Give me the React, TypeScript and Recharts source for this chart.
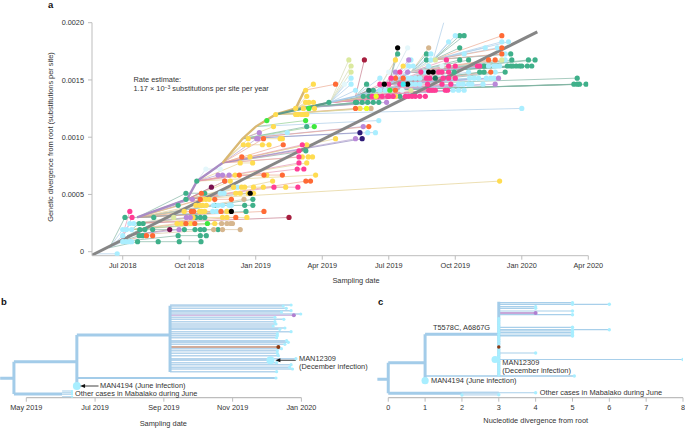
import React from "react";
import { ComposedChart, Line, Scatter, XAxis, YAxis, ReferenceLine } from "recharts";

const FONT = '"Liberation Sans", Arial, sans-serif';
const TEXT = "#333";
const AXIS = "#bdbdbd";

// panel a: x is months after Jul 2018, rows are substitutions from root
const A_TICKS = [0, 3, 6, 9, 12, 15, 18, 21];
const A_LABELS = ["Jul 2018", "Oct 2018", "Jan 2019", "Apr 2019", "Jul 2019", "Oct 2019", "Jan 2020", "Apr 2020"];
const A_Y_TICKS = [0, 0.0005, 0.001, 0.0015, 0.002];
const SITE_STEP = 1 / 18900;
const ROW_SHIFT = 0.65;
const REGRESSION_X = [-1.39, 18.7];
const REGRESSION_Y = [-0.00003, 0.00192];

// [row, month] nodes of the backbone of the tree
const BACKBONE = [
  [-1, -1.39], [0, -0.6], [1, -0.1], [2, 0.2], [3, 0.4], [4, 0.5], [5, 0.65],
  [8, 2.9], [11, 3.35], [14, 4.5], [18, 5.4], [20, 6], [22, 6.9], [23, 7.8], [26, 8.2],
  [24, 9.35], [25, 10.5], [26, 11.5], [27, 12], [29, 13], [31, 14],
];
const THICK_PURPLE = [[5, 0.65], [8, 2.9], [11, 3.35], [14, 4.5]];
const THICK_TAN = [[14, 4.5], [18, 5.4], [20, 6], [22, 6.9], [23, 7.8], [26, 8.2]];
const THICK_GREEN = [[22, 6.9], [24, 9.35]];
const THICK_BLUE = [[24, 9.35], [25, 10.5], [26, 11.5], [27, 12], [29, 13]];

const GREEN_TIPS = [
  [1, [0.67, 1.6, 2.55, 3.53]], [2, [0.74, 0.9, 2.5, 3.5, 3.77]], [3, [0.77, 1, 1.35, 2.78, 3.26, 3.5, 3.68, 4.3]],
  [4, [0.74, 0.92]], [5, [0.1, 1.4, 3.3, 3.5, 3.7]], [6, [5.56]], [7, [2.5, 4.15, 5.5, 5.87]], [8, [2.85, 5.87]],
  [9, [2.85, 3.7]], [11, [3.34]], [16, [8.26]], [20, [8.3]], [24, [9.3, 10.5, 10.55, 10.8, 11.05, 11.3, 11.55]],
  [25, [10.85, 11.1, 12.5]], [26, [11.3]], [27, [11, 20.35, 20.5, 20.6, 20.9]], [28, [20.5]],
  [29, [14.95, 16.1, 16.3, 17.25]], [30, [16.3, 17.35, 17.5, 17.6, 17.75, 17.9, 18, 18.25, 18.45]],
  [31, [13.7, 15.2, 15.6, 17.55, 18.3, 18.6]], [32, [12.4, 13.7, 17.5]], [33, [15.2]], [35, [15.2, 15.4]],
];
const CYAN_TIPS = [
  [-1, [-0.25]], [1, [0, 0.14, 0.3, 0.4]], [2, [0]], [3, [0, 0.17, 0.4]], [4, [0.32, 0.5]], [6, [4.06, 4.24, 4.7]],
  [7, [4.1, 4.3, 4.5, 4.8, 4.9]], [9, [4.4, 4.57]], [10, [5.17]], [19, [7.42, 11.05, 11.4]], [21, [11.55]], [23, [18]],
  [26, [10.5, 11.6, 11.85, 14.9, 15.15, 15.4]], [27, [10.3, 13, 13.2, 13.4, 15.15, 15.35, 15.6, 15.75, 16.25]],
  [28, [10.3, 11.6, 12.85, 13, 13.2, 13.4, 15.65, 15.85, 16.05, 16.4, 16.6, 16.75]], [29, [13.6, 15.6, 16.8]],
  [30, [12.9, 13.1, 13.8, 16.5, 16.75, 16.85, 17]], [31, [13, 13.9, 17.25]], [32, [13.9, 15.4, 17.25]],
  [33, [16.35, 16.9]], [34, [14.7, 17.1, 17.4]], [35, [15]], [40, [14.7]],
];
const YELLOW_TIPS = [
  [4, [2.45, 2.65, 3.07, 4.15]], [5, [3.17, 4.5, 4.7, 5.6]], [6, [2.77, 3.47, 3.55, 3.7, 4.7]], [7, [3.3, 3.47, 3.6, 3.77]],
  [8, [3.6, 3.75, 3.9]], [9, [5.1, 5.3, 5.66, 5.9]], [10, [5, 5.36, 5.5, 5.9, 6.34, 7.35]], [11, [4.85, 6.76, 17]],
  [12, [5.07, 6.5, 8.7]], [14, [5.3, 5.86, 8.3]], [15, [5.74, 8.1, 8.37, 8.56]], [17, [5.44, 5.66, 6.3, 6.6, 8.3]],
  [18, [5.66, 7.1, 7.2, 9.6]], [20, [6.8]], [22, [6.9, 7.8, 7.9, 8.07, 8.2, 8.3]], [23, [7.8, 8.15, 8.65, 10.7]],
  [24, [8.25, 8.4, 8.6]], [25, [8.3, 12.3]], [26, [8.25]], [27, [8.6]], [30, [12.65]], [31, [12.3]],
];
const TAN_TIPS = [[3, [4.1, 4.5, 5.3]], [4, [4.46, 4.7, 4.87, 4.95]], [8, [5.47]], [23, [11.2]], [33, [13.8]]];
const PURPLE_TIPS = [
  [3, [2.54]], [5, [2.87, 3.05]], [8, [3.14]], [11, [4.6]], [12, [4.3, 4.5, 4.8]], [18, [6.04, 6.1, 10.5]], [19, [6.16]],
  [20, [10.85]], [24, [11.9]], [27, [16.8]], [28, [16.95]], [29, [12.3, 12.85]], [31, [12.9]],
];
const ORANGE_TIPS = [
  [2, [1.07, 1.35]], [4, [2.85, 3.25]], [5, [5.1]], [6, [3.1, 3.2, 4.43, 6.37]], [8, [3.5, 4.15, 4.9]], [9, [3.55]],
  [11, [4.6, 8.26, 8.47]], [12, [5.26, 6.37, 7.2]], [15, [5.37]], [17, [7.24]], [18, [6.35]], [20, [11.1]], [23, [10.5]],
  [26, [12.3]], [27, [9.6]], [28, [12.3, 12.65]], [29, [16.6]], [31, [16.5, 16.8]], [32, [17.1]], [33, [17.1]], [35, [17.1]],
];
const PINK_TIPS = [
  [5, [0.42]], [6, [0.32]], [10, [6.82, 7.9]], [13, [7.87, 8.17]], [14, [7.95]], [15, [7.95]], [16, [7.95]], [17, [8.1]],
  [25, [11.25, 11.5, 11.7, 11.95, 12, 12.2, 12.75, 12.9, 13.05, 13.2, 13.4, 13.65]],
  [26, [13.8, 13.9, 14, 14.1, 14.55, 14.65]], [27, [11.6, 12, 12.5, 13.75, 14.4, 14.8]],
  [28, [12.1, 13.7, 13.85, 14.45, 14.7, 15]], [29, [12.5, 13.45, 14.25, 14.4, 14.7]], [30, [14.7, 15, 16, 16.1]], [31, [14.6]],
];
const BLACK_TIPS = [[6, [4.9]], [9, [5.75]], [27, [11.8, 12.85]], [29, [13.8, 14]], [33, [12.4]]];
const MAROON_TIPS = [[3, [2.12]], [10, [4]]];
const DARK_RED_TIPS = [[5, [7.5]], [31, [10.9]]];
const NAVY_TIPS = [[18, [10.8]], [19, [10.7]]];
const LIME_TIPS = [[4, [3.82]], [20, [8.64]], [21, [6.5, 8.25]], [23, [8.4]], [26, [12.05]]];
const LIGHT_GREEN_TIPS = [[5, [2.3]], [26, [13]], [29, [10.3]], [30, [10.3]], [31, [10.2, 14.1, 17.1]]];
const PALE_TIPS = [[13, [3.75, 4.4]], [26, [12.6]], [27, [10]], [29, [12]], [30, [14.4]], [33, [12.85]]];
const CITRON_TIPS = [[23, [11]], [25, [11.43]]];
const AQUA_TIPS = [[27, [12.65]]];
const DEEP_GREEN_TIPS = [[26, [11.1]], [28, [14.1]]];

const A_SERIES = [
  { name: "green", color: "#3fb08a", stem: "#7fb3a2", tips: GREEN_TIPS },
  { name: "cyan", color: "#aaeeff", stem: "#a9cbe8", tips: CYAN_TIPS },
  { name: "yellow", color: "#ffdc50", stem: "#e3cf8e", tips: YELLOW_TIPS },
  { name: "tan", color: "#d6b68e", stem: "#d8c3a0", tips: TAN_TIPS },
  { name: "purple", color: "#b988d8", stem: "#b59fce", tips: PURPLE_TIPS },
  { name: "orange", color: "#ff6a35", stem: "#eba88e", tips: ORANGE_TIPS },
  { name: "pink", color: "#ff3d96", stem: "#e596b4", tips: PINK_TIPS },
  { name: "black", color: "#000000", stem: "#9a9a9a", tips: BLACK_TIPS },
  { name: "maroon", color: "#7a1150", stem: "#b0809c", tips: MAROON_TIPS },
  { name: "darkred", color: "#a61e3e", stem: "#c4788a", tips: DARK_RED_TIPS },
  { name: "navy", color: "#2d1b78", stem: "#8f86bd", tips: NAVY_TIPS },
  { name: "lime", color: "#3ee83e", stem: "#8fce8f", tips: LIME_TIPS },
  { name: "lightgreen", color: "#dbe99f", stem: "#d3d9b4", tips: LIGHT_GREEN_TIPS },
  { name: "pale", color: "#e4f7fb", stem: "#c9dfe8", tips: PALE_TIPS },
  { name: "citron", color: "#e8ff20", stem: "#d6dc90", tips: CITRON_TIPS },
  { name: "aqua", color: "#3ce6f0", stem: "#a9cbe8", tips: AQUA_TIPS },
  { name: "deepgreen", color: "#1f7a60", stem: "#7fb3a2", tips: DEEP_GREEN_TIPS },
];

const rowValue = (row: number) => (row + ROW_SHIFT) * SITE_STEP;

const backboneNode = (row: number, month: number) => {
  let best = BACKBONE[0];
  for (const node of BACKBONE) {
    if (node[0] <= row - 1 && node[1] < month - 0.3 && node[1] > best[1]) best = node;
  }
  return best;
};

const tipPoints = (tips: any[]) =>
  tips.flatMap(([row, months]) => months.map((m: number) => ({ x: m, y: rowValue(row) })));

// below row 24 a tip runs on from the tip before it in the same row, the first one leaves the backbone
const stemRows = (tips: any[]) =>
  tips.flatMap(([row, months]) =>
    months.flatMap((m: number, i: number) => {
      const from = row < 24 && i > 0 && m - months[i - 1] < 1.5 ? [row, months[i - 1]] : backboneNode(row, m);
      return [
        { x: from[1], y: rowValue(from[0]) },
        { x: m, y: rowValue(row) },
        { x: m, y: null },
      ];
    })
  );

const trunkRows = (nodes: number[][]) => nodes.map(([row, m]) => ({ x: m, y: rowValue(row) }));

// panels b and c: y is the position of the branch in the drawn tree
const B_TICKS = [0, 2, 4, 6, 8];
const B_LABELS = ["May 2019", "Jul 2019", "Sep 2019", "Nov 2019", "Jan 2020"];
const B_FAN_ROOT = 4.18;
const B_FAN_POS = [92.7, 91.7, 89.4, 87, 85.7, 83.7, 80.4, 78.4, 76, 73.7, 71.7, 69.7, 68.4, 66, 64, 62, 60, 57, 55.4, 53.4, 49, 47, 44.4, 42, 39, 37.4, 35, 33, 30.4, 28.7, 26];
const B_FAN_TIP = [7.7, 7.47, 7.56, 7.7, 7.42, 7.98, 7.23, 7.49, 7.23, 7.26, 7.18, 7.52, 7.37, 7.7, 7.3, 7.3, 7.28, 7.57, 7.62, 7.52, 7.42, 7.3, 7.3, 7.33, 7.84, 7.1, 7.28, 7.7, 7.66, 7.74, 7.28];
const B_PURPLE = [82.4, 7.78];
const B_BROWN = [50.7, 7.33];
const B_THICK = [
  [[-0.76, 19.4], [-0.36, 19.4]],
  [[-0.36, 36], [-0.36, 3.7]],
  [[-0.36, 36], [1.47, 36]],
  [[1.47, 62.7], [1.47, 11.7]],
  [[1.47, 62.7], [4.18, 62.7]],
  [[4.18, 92], [4.18, 25.7]],
  [[-0.36, 3.7], [1.04, 3.7]],
];
const B_MEDIUM = [[[1.47, 19.7], [7.26, 19.7]]];
const B_BOX_POS = [6.7, 5, 3.5, 1];
const B_BOX_X = [1.04, 1.33];
const B_ARROWS = [
  [[2.1, 11.7], [1.65, 11.7]],
  [[7.84, 37.4], [7.33, 37.4]],
];
const B_BIG = [[1.47, 11.7], [7.1, 37.4]];

const C_TICKS = [0, 1, 2, 3, 4, 5, 6, 7, 8];
const C_FAN_ROOT = 3;
const C_FAN_POS = [95, 93.4, 91, 89.4, 86.7, 83, 70.4, 68, 66.7, 65.2, 63.7, 62.2, 61.7, 44.7, 38.2];
const C_FAN_TIP = [5, 6, 4, 4, 5, 5, 5, 6, 5, 5, 5, 5, 5, 4, 8];
const C_FAN_DOTS = [[5, 93.4], [5, 68]];
const C_PURPLE = [84.7, 4];
const C_COLUMN = [79.2, 76.9, 74.6, 72.3, 70, 67.7, 65.4, 63.1, 60.8, 58.5, 56.2, 53.9, 48, 45.7, 43.4, 41.1, 38.8, 36.5, 34.2, 31.9, 29.6, 27.3, 25, 22.7];
const C_BROWN = [3, 50.7];
const C_THICK = [
  [[-0.3, 18.4], [0, 18.4]],
  [[0, 35], [0, 4.4]],
  [[0, 35], [1, 35]],
  [[1, 63.4], [1, 17]],
  [[1, 63.4], [3, 63.4]],
  [[3, 96], [3, 21.7]],
  [[0, 4.4], [2, 4.4]],
];
const C_MEDIUM = [[[1, 21.7], [5.05, 21.7]]];
const C_BOX_POS = [5.7, 4.7, 3.7, 2.7];
const C_BOX_X = [2, 3];
const C_OUTER = [[[2, 5], [4, 5]]];
const C_DOTS = [[5.05, 21.7], [4, 5], [2, 2.7], [3, 3]];
const C_BIG = [[2.9, 38.2], [1, 17]];

const pathRows = (paths: number[][][]) =>
  paths.flatMap((p) => [...p.map(([x, y]) => ({ x, y })), { x: p[p.length - 1][0], y: null }]);

const fanRows = (root: number, pos: number[], tip: number[]) =>
  pos.flatMap((y, i) => [{ x: root, y }, { x: tip[i], y }, { x: tip[i], y: null }]);

const boxRows = (pos: number[], xs: number[]) =>
  pos.flatMap((y) => [{ x: xs[0], y }, { x: xs[1], y }, { x: xs[1], y: null }]);

const dotRows = (pairs: number[][]) => pairs.map(([x, y]) => ({ x, y }));

const disc = (r: number, fill: string) => (p: any) => <circle cx={p.cx} cy={p.cy} r={r} fill={fill} />;
const arrowHead = (p: any) => (
  <polygon points={`${p.cx - 3},${p.cy} ${p.cx + 2},${p.cy - 2} ${p.cx + 2},${p.cy + 2}`} fill="#111" />
);

const tickStyle = { fontSize: 7.3, fill: TEXT, fontFamily: FONT };

const Note = ({ x, y, children, center, bold }: any) => (
  <div
    style={{
      position: "absolute",
      left: x,
      top: y,
      transform: center ? "translate(-50%,-50%)" : "translateY(-50%)",
      font: `${bold ? "bold 9.5px" : "7.4px"} ${FONT}`,
      color: bold ? "#111" : TEXT,
      whiteSpace: "nowrap",
      lineHeight: 1,
    }}
  >
    {children}
  </div>
);

const seriesLine = (key: string, rows: any[], color: string, width: number, opacity = 1) => (
  <Line
    key={key}
    data={rows}
    dataKey="y"
    stroke={color}
    strokeWidth={width}
    strokeOpacity={opacity}
    dot={false}
    activeDot={false}
    legendType="none"
    isAnimationActive={false}
  />
);

const seriesDots = (key: string, rows: any[], r: number, color: string) => (
  <Scatter key={key} data={rows} dataKey="y" shape={disc(r, color)} isAnimationActive={false} />
);

function PanelA() {
  return (
    <div style={{ position: "absolute", left: 0, top: 0 }}>
      <ComposedChart width={685} height={290} margin={{ top: 22.7, right: 96.7, bottom: 4.3, left: 0 }}>
        <XAxis
          dataKey="x"
          type="number"
          domain={[-1.386, 21]}
          ticks={A_TICKS}
          interval={0}
          tickFormatter={(_: any, i: number) => A_LABELS[i]}
          tick={tickStyle}
          tickSize={4}
          tickMargin={3}
          stroke={AXIS}
          height={30}
          allowDataOverflow
        />
        <YAxis
          type="number"
          domain={[-0.000035, 0.002]}
          ticks={A_Y_TICKS}
          interval={0}
          tickFormatter={(v: number) => (v === 0 ? "0" : v.toFixed(4))}
          tick={tickStyle}
          tickSize={4}
          tickMargin={4}
          stroke={AXIS}
          width={92}
          allowDataOverflow
        />
        {A_SERIES.map((s) => seriesLine(`stem-${s.name}`, stemRows(s.tips), s.stem, 0.8, 0.85))}
        {seriesLine("thick-blue", trunkRows(THICK_BLUE), "#a9cbe8", 1.6)}
        {seriesLine("thick-purple", trunkRows(THICK_PURPLE), "#a98cc4", 2.4)}
        {seriesLine("thick-tan", trunkRows(THICK_TAN), "#d9b873", 2.4)}
        {seriesLine("thick-green", trunkRows(THICK_GREEN), "#5f9a8a", 2.2)}
        {A_SERIES.map((s) => seriesDots(`tip-${s.name}`, tipPoints(s.tips), 2.6, s.color))}
        {seriesLine("regression", REGRESSION_X.map((x, i) => ({ x, y: REGRESSION_Y[i] })), "#868686", 3)}
      </ComposedChart>
    </div>
  );
}

function PanelB() {
  return (
    <div style={{ position: "absolute", left: 0, top: 290 }}>
      <ComposedChart width={345} height={138} margin={{ top: 0, right: 35, bottom: 0.3, left: 0 }}>
        <XAxis
          dataKey="x"
          type="number"
          domain={[-0.765, 8.25]}
          ticks={B_TICKS}
          interval={0}
          tickFormatter={(_: any, i: number) => B_LABELS[i]}
          tick={tickStyle}
          tickSize={4}
          tickMargin={3}
          stroke={AXIS}
          axisLine={false}
          height={30}
          allowDataOverflow
        />
        <YAxis type="number" domain={[0, 107.7]} hide width={0} />
        <ReferenceLine segment={[{ x: 0, y: 0 }, { x: 8, y: 0 }]} stroke={AXIS} strokeWidth={1.2} ifOverflow="visible" />
        {seriesLine("fan", fanRows(B_FAN_ROOT, B_FAN_POS, B_FAN_TIP), "#b5d4ec", 1.5)}
        {seriesLine("purple", fanRows(B_FAN_ROOT, [B_PURPLE[0]], [B_PURPLE[1]]), "#c7a6d8", 1.1)}
        {seriesLine("brown", fanRows(B_FAN_ROOT, [B_BROWN[0]], [B_BROWN[1]]), "#c08f78", 1.3)}
        {seriesLine("box", boxRows(B_BOX_POS, B_BOX_X), "#a8cfea", 1.1)}
        {seriesLine("medium", pathRows(B_MEDIUM), "#a3cce9", 1.8)}
        {seriesLine("thick", pathRows(B_THICK), "#a3cce9", 3)}
        {seriesDots("tips", B_FAN_TIP.map((x, i) => ({ x, y: B_FAN_POS[i] })), 1.6, "#a8eeff")}
        {seriesDots("medium-tip", [{ x: 7.26, y: 19.7 }], 1.6, "#a8eeff")}
        {seriesDots("box-tips", B_BOX_POS.map((y) => ({ x: B_BOX_X[1], y })), 1.1, "#a8eeff")}
        {seriesDots("purple-tip", [{ x: B_PURPLE[1], y: B_PURPLE[0] }], 2, "#b07fd0")}
        {seriesDots("brown-tip", [{ x: B_BROWN[1], y: B_BROWN[0] }], 2, "#8b3a12")}
        {seriesDots("big", dotRows(B_BIG), 4, "#a8eeff")}
        {seriesLine("arrows", pathRows(B_ARROWS), "#111", 0.8)}
        <Scatter
          data={B_ARROWS.map((a) => ({ x: a[1][0], y: a[1][1] }))}
          dataKey="y"
          shape={arrowHead}
          isAnimationActive={false}
        />
      </ComposedChart>
    </div>
  );
}

function PanelC() {
  return (
    <div style={{ position: "absolute", left: 345, top: 290 }}>
      <ComposedChart width={340} height={138} margin={{ top: 0, right: 2, bottom: 0.3, left: 32.2 }}>
        <XAxis
          dataKey="x"
          type="number"
          domain={[-0.3, 8]}
          ticks={C_TICKS}
          interval={0}
          tick={tickStyle}
          tickSize={4}
          tickMargin={3}
          stroke={AXIS}
          axisLine={false}
          height={30}
          allowDataOverflow
        />
        <YAxis type="number" domain={[0, 107.7]} hide width={0} />
        <ReferenceLine segment={[{ x: 0, y: 0 }, { x: 8, y: 0 }]} stroke={AXIS} strokeWidth={1.2} ifOverflow="visible" />
        {seriesLine("fan", fanRows(C_FAN_ROOT, C_FAN_POS, C_FAN_TIP), "#a8cfea", 1.2)}
        {seriesLine("purple", fanRows(C_FAN_ROOT, [C_PURPLE[0]], [C_PURPLE[1]]), "#c7a6d8", 1.8)}
        {seriesLine("box", boxRows(C_BOX_POS, C_BOX_X), "#bcd8ee", 1)}
        {seriesLine("outer", pathRows(C_OUTER), "#a8cfea", 1.1)}
        {seriesLine("medium", pathRows(C_MEDIUM), "#a3cce9", 1.4)}
        {seriesLine("thick", pathRows(C_THICK), "#a3cce9", 3)}
        {seriesDots("column", C_COLUMN.map((y) => ({ x: 3, y })), 1.6, "#a8eeff")}
        {seriesDots("tips", C_FAN_TIP.map((x, i) => ({ x, y: C_FAN_POS[i] })), 1.7, "#a8eeff")}
        {seriesDots("inner", dotRows(C_FAN_DOTS), 1.7, "#a8eeff")}
        {seriesDots("ends", dotRows(C_DOTS), 1.7, "#a8eeff")}
        {seriesDots("purple-tip", [{ x: C_PURPLE[1], y: C_PURPLE[0] }], 2, "#b07fd0")}
        {seriesDots("brown-tip", [{ x: C_BROWN[0], y: C_BROWN[1] }], 1.7, "#8b3a12")}
        {seriesDots("big", dotRows(C_BIG), 3.6, "#a8eeff")}
      </ComposedChart>
    </div>
  );
}

export default function App() {
  return (
    <div style={{ position: "absolute", left: 0, top: 0, width: 685, height: 428, background: "#fff", overflow: "hidden" }}>
      <PanelA />
      <PanelB />
      <PanelC />
      <Note x={48} y={5} bold>a</Note>
      <Note x={1} y={302} bold>b</Note>
      <Note x={378} y={302} bold>c</Note>
      <div
        style={{
          position: "absolute",
          left: 49.5,
          top: 137,
          transform: "translate(-50%,-50%) rotate(-90deg)",
          font: `7.4px ${FONT}`,
          color: TEXT,
          whiteSpace: "nowrap",
        }}
      >
        Genetic divergence from root (substitutions per site)
      </div>
      <Note x={133.5} y={80.3}>Rate estimate:</Note>
      <Note x={133.5} y={89.3}>
        1.17 × 10<span style={{ fontSize: 5, position: "relative", top: -2.5 }}>−3</span> substitutions per site per year
      </Note>
      <Note x={356} y={281} center>Sampling date</Note>
      <Note x={100} y={385.6}>MAN4194 (June infection)</Note>
      <Note x={75} y={393.6}>Other cases in Mabalako during June</Note>
      <Note x={299} y={358.7}>MAN12309</Note>
      <Note x={299} y={367}>(December infection)</Note>
      <Note x={163.3} y={424} center>Sampling date</Note>
      <Note x={433} y={328}>T5578C, A6867G</Note>
      <Note x={502.3} y={363}>MAN12309</Note>
      <Note x={502.3} y={371.3}>(December infection)</Note>
      <Note x={431} y={381.3}>MAN4194 (June infection)</Note>
      <Note x={539.7} y={393}>Other cases in Mabalako during June</Note>
      <Note x={535.7} y={421.3} center>Nucleotide divergence from root</Note>
    </div>
  );
}
